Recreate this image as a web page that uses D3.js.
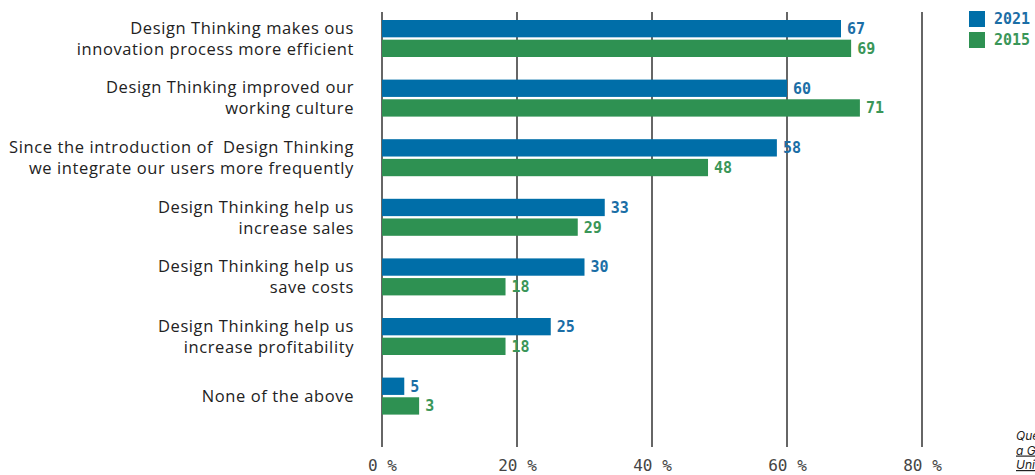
<!DOCTYPE html>
<html>
<head>
<meta charset="utf-8">
<script src="https://cdn.jsdelivr.net/npm/d3@7"></script>
<style>
  body { margin: 0; background: #fff; }
  svg { display: block; }
</style>
</head>
<body>
<svg id="chart" width="1035" height="475"></svg>
<script>
// --- Data ---
const categories = [
    ["Design Thinking makes ous", "innovation process more efficient"],
    ["Design Thinking improved our", "working culture"],
    ["Since the introduction of  Design Thinking", "we integrate our users more frequently"],
    ["Design Thinking help us", "increase sales"],
    ["Design Thinking help us", "save costs"],
    ["Design Thinking help us", "increase profitability"],
    ["None of the above"]
];
const seriesNames = ["2021", "2015"];
// bar lengths as drawn in the picture
const values2021 = [68, 60, 58.5, 33, 30, 25, 3.3];
const values2015 = [69.5, 70.8, 48.3, 29, 18.3, 18.3, 5.5];
// printed value labels
const labels2021 = ["67", "60", "58", "33", "30", "25", "5"];
const labels2015 = ["69", "71", "48", "29", "18", "18", "3"];
const xTicks = [0, 20, 40, 60, 80];
const noteLines = ["Question asked in", "a German study", "University survey"];

const colors = { "2021": "#006ea8", "2015": "#2e9152" };
const textColors = { "2021": "#1b6ea6", "2015": "#3a9658" };
const mono = "'DejaVu Sans Mono', monospace";

const svg = d3.select("#chart");

const x = d3.scaleLinear().domain([0, 80]).range([382, 922]);
const y = d3.scaleBand().domain(d3.range(categories.length)).range([8.7, 425.9]);
const ySeries = d3.scaleBand().domain(seriesNames).range([0, 37]).paddingInner(0.12);

// --- Grid lines ---
svg.append("g")
    .selectAll("line")
    .data(xTicks)
    .join("line")
    .attr("x1", d => x(d))
    .attr("x2", d => x(d))
    .attr("y1", 12)
    .attr("y2", 447)
    .attr("stroke", "#333")
    .attr("stroke-width", 1.5);

// --- X axis labels ---
const xAxis = svg.append("g")
    .attr("transform", "translate(0,447)")
    .call(d3.axisBottom(x).tickValues(xTicks).tickSize(0).tickPadding(13).tickFormat(d => d + " %"));
xAxis.select(".domain").remove();
xAxis.selectAll("text")
    .style("font-family", mono)
    .style("font-size", "16px")
    .attr("fill", "#444");

// --- Bars ---
const rows = categories.map((c, i) => ({
    i,
    bars: [
        { s: "2021", v: values2021[i], label: labels2021[i] },
        { s: "2015", v: values2015[i], label: labels2015[i] }
    ]
}));

const groups = svg.append("g")
    .selectAll("g")
    .data(rows)
    .join("g")
    .attr("transform", d => `translate(0,${y(d.i) + y.bandwidth() / 2 - 18.5})`);

groups.selectAll("rect")
    .data(d => d.bars)
    .join("rect")
    .attr("x", x(0))
    .attr("y", d => ySeries(d.s))
    .attr("width", d => x(d.v) - x(0))
    .attr("height", ySeries.bandwidth())
    .attr("fill", d => colors[d.s]);

groups.selectAll("text")
    .data(d => d.bars)
    .join("text")
    .attr("x", d => x(d.v) + 6)
    .attr("y", d => ySeries(d.s) + ySeries.bandwidth() / 2)
    .attr("dy", "0.36em")
    .style("font-family", mono)
    .style("font-size", "15px")
    .style("font-weight", "bold")
    .attr("fill", d => textColors[d.s])
    .text(d => d.label);

// --- Category labels ---
const catLabels = svg.append("g")
    .selectAll("text")
    .data(categories)
    .join("text")
    .attr("x", 354)
    .attr("y", (d, i) => y(i) + y.bandwidth() / 2)
    .attr("text-anchor", "end")
    .style("font-family", "'Open Sans', sans-serif")
    .style("font-size", "16.5px")
    .style("letter-spacing", "0.6px")
    .style("white-space", "pre")
    .attr("fill", "#222");

catLabels.selectAll("tspan")
    .data(d => d.map((line, j) => ({ line, j, n: d.length })))
    .join("tspan")
    .attr("x", 354)
    .attr("dy", d => d.j === 0 ? `${0.35 - (d.n - 1) * 0.64}em` : "1.28em")
    .text(d => d.line);

// --- Legend ---
const legend = svg.append("g")
    .selectAll("g")
    .data(seriesNames)
    .join("g")
    .attr("transform", (d, i) => `translate(969,${11 + i * 21})`);

legend.append("rect")
    .attr("width", 16)
    .attr("height", 16)
    .attr("fill", d => colors[d]);

legend.append("text")
    .attr("x", 25)
    .attr("y", 8)
    .attr("dy", "0.36em")
    .style("font-family", mono)
    .style("font-size", "15px")
    .style("font-weight", "bold")
    .attr("fill", d => textColors[d])
    .text(d => d);

// --- Note (runs off the right edge, as in the original) ---
svg.append("g")
    .selectAll("text")
    .data(noteLines)
    .join("text")
    .attr("x", 1016)
    .attr("y", (d, i) => 440 + i * 14.5)
    .style("font-family", "Inter, sans-serif")
    .style("font-size", "12px")
    .style("font-style", "italic")
    .style("text-decoration", (d, i) => i > 0 ? "underline" : "none")
    .attr("fill", "#222")
    .text(d => d);
</script>
</body>
</html>
